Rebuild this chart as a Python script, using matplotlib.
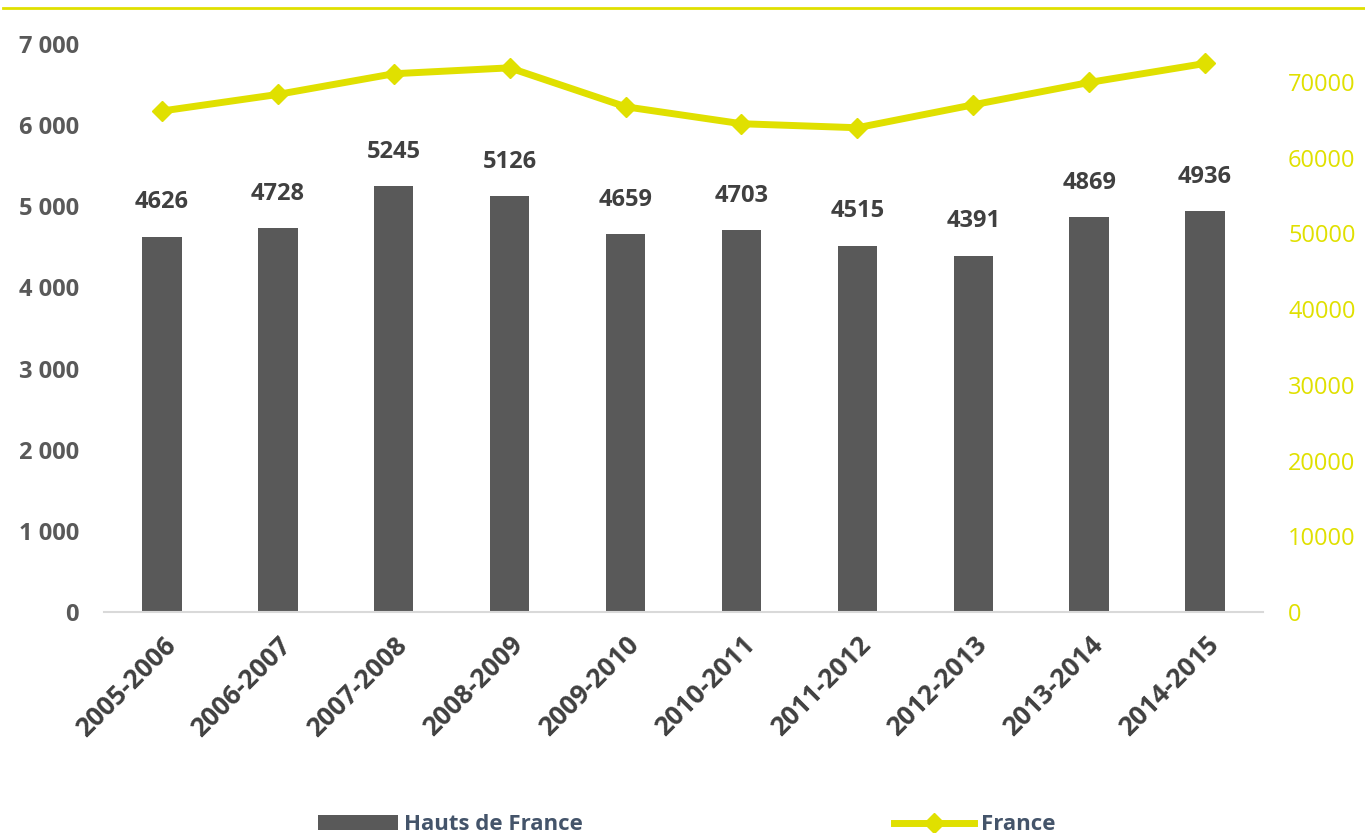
#!/usr/bin/env python3
"""
Hauts de France vs France: bar + line chart on twin axes.
"""
import matplotlib
matplotlib.use('Agg')
import matplotlib.pyplot as plt
from matplotlib.lines import Line2D
from matplotlib.ticker import FuncFormatter

plt.rcParams['font.family'] = ['Open Sans', 'DejaVu Sans']

# Data
years = ['2005-2006', '2006-2007', '2007-2008', '2008-2009', '2009-2010',
         '2010-2011', '2011-2012', '2012-2013', '2013-2014', '2014-2015']
hdf = [4626, 4728, 5245, 5126, 4659, 4703, 4515, 4391, 4869, 4936]
france = [66150, 68340, 71070, 71850, 66710, 64470, 63940, 66970, 69920, 72430]
left_ticks = [0, 1000, 2000, 3000, 4000, 5000, 6000, 7000]
right_ticks = [0, 10000, 20000, 30000, 40000, 50000, 60000, 70000]

bar_color = '#595959'
line_color = '#E0E000'
text_color = '#595959'

fig = plt.figure(figsize=(13.65, 8.33), dpi=100)
ax = fig.add_axes([0.0762, 0.2653, 0.8491, 0.6819])
ax2 = ax.twinx()

x = list(range(len(years)))
bars = ax.bar(x, hdf, width=0.34, color=bar_color, label='Hauts de France', zorder=2)
ax2.plot(x, france, color=line_color, linewidth=5, marker='D', markersize=10,
         label='France', zorder=3)

# data labels above bars
for xi, v in zip(x, hdf):
    ax.annotate(str(v), (xi, v), xytext=(0, 16), textcoords='offset points',
                ha='center', va='bottom', fontsize=17, weight='bold', color='#404040')

ax.set_xlim(-0.5, len(years) - 0.5)
ax.set_ylim(0, 7000)
ax2.set_ylim(0, 75000)

ax.set_yticks(left_ticks)
ax.yaxis.set_major_formatter(FuncFormatter(lambda v, p: f'{int(v):,}'.replace(',', ' ')))
ax.tick_params(axis='y', length=0, labelsize=17, labelcolor=text_color, pad=18)
for t in ax.get_yticklabels():
    t.set_weight('bold')

ax2.set_yticks(right_ticks)
ax2.tick_params(axis='y', length=0, labelsize=17, labelcolor=line_color, pad=18)

ax.set_xticks(x)
ax.set_xticklabels(years, rotation=45, ha='right', rotation_mode='anchor',
                   fontsize=19, weight='bold', color='#404040')
ax.tick_params(axis='x', length=0, pad=14)

for a in (ax, ax2):
    for s in ('top', 'right', 'left', 'bottom'):
        a.spines[s].set_visible(False)
ax.spines['bottom'].set_visible(True)
ax.spines['bottom'].set_color('#D9D9D9')
ax.spines['bottom'].set_linewidth(1.5)

# decorative yellow rule at the top
fig.add_artist(Line2D([0.002, 1.0], [0.990, 0.990], color=line_color, linewidth=2))

# legend at the bottom
handles = [bars, ax2.get_lines()[0]]
leg = fig.legend(handles, ['Hauts de France', 'France'], loc='lower center',
                 bbox_to_anchor=(0.503, -0.027), ncol=2, frameon=False,
                 fontsize=16, handlelength=3.6, columnspacing=14, handletextpad=0.3,
                 labelcolor='#44546A', prop={'weight': 'bold', 'size': 16})

fig.savefig('out.png', dpi=100)
